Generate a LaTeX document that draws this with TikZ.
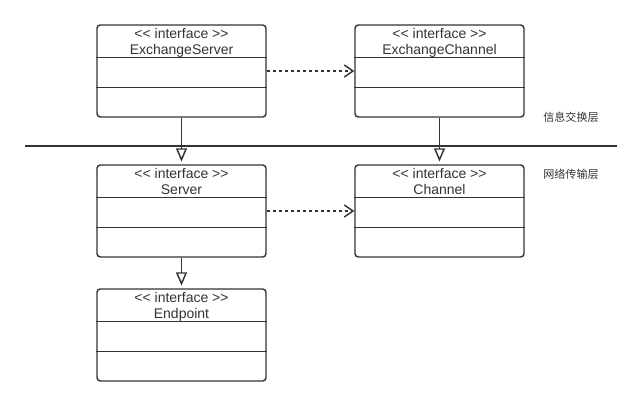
\documentclass[tikz,border=0pt]{standalone}
\usepackage{fontspec}
\setmainfont{Liberation Sans}
\newfontfamily\cjk{Noto Sans CJK SC}
\usetikzlibrary{arrows.meta}
\definecolor{ink}{HTML}{333333}
\newcommand\iftag{\strut\textless\kern0pt\textless{} interface \textgreater\kern0pt\textgreater}
\tikzset{iface/.style={draw=ink,line width=1.1pt,rounded corners=2.5pt,minimum width=126.75pt,minimum height=69pt,inner sep=0pt},ttl/.style={anchor=north,align=center,text=ink,inner ysep=1.9pt},layer/.style={font=\cjk\fontsize{8.3}{10}\selectfont,text=ink}}
\begin{document}
\begin{tikzpicture}[x=0.75pt,y=-0.75pt,font=\fontsize{10.5}{12.3}\selectfont,inh/.style={draw=ink,line width=1.1pt,-{Triangle[open,fill=white,length=10pt,width=8.25pt]},shorten >=2pt},dep/.style={draw=ink,line width=1.1pt,dash pattern=on 2.25pt off 2.25pt,-{Straight Barb[length=6.5pt,width=9pt]}}]
\useasboundingbox (0,0) rectangle (642,407);
\node[iface] (es) at (181.5,71) {};
\node[iface] (ec) at (439.5,71) {};
\node[iface] (srv) at (181.5,211) {};
\node[iface] (ch) at (439.5,211) {};
\node[iface] (ep) at (181.5,335) {};
\node[ttl] (es-t) at (es.north) {\iftag\\\strut ExchangeServer};
\node[ttl] (ec-t) at (ec.north) {\iftag\\\strut ExchangeChannel};
\node[ttl] (srv-t) at (srv.north) {\iftag\\\strut Server};
\node[ttl] (ch-t) at (ch.north) {\iftag\\\strut Channel};
\node[ttl] (ep-t) at (ep.north) {\iftag\\\strut Endpoint};
\foreach \n in {es,ec,srv,ch,ep}{
  \draw[ink,line width=1.1pt] ([yshift=-24.75pt]\n.north west)--([yshift=-24.75pt]\n.north east);
  \draw[ink,line width=1.1pt] ([yshift=-47.25pt]\n.north west)--([yshift=-47.25pt]\n.north east);
}
\node[layer] (xl) at (571,117) {信息交换层};
\node[layer] (nl) at (571,174) {网络传输层};
\coordinate (sl) at (25,146);\coordinate (sr) at (617,146);
\draw[draw=ink,line width=1.1pt] (sl)--(sr);
\draw[inh] (es)--(srv);\draw[inh] (ec)--(ch);\draw[inh] (srv)--(ep);
\draw[dep] (es)--(ec);\draw[dep] (srv)--(ch);
\end{tikzpicture}
\end{document}
